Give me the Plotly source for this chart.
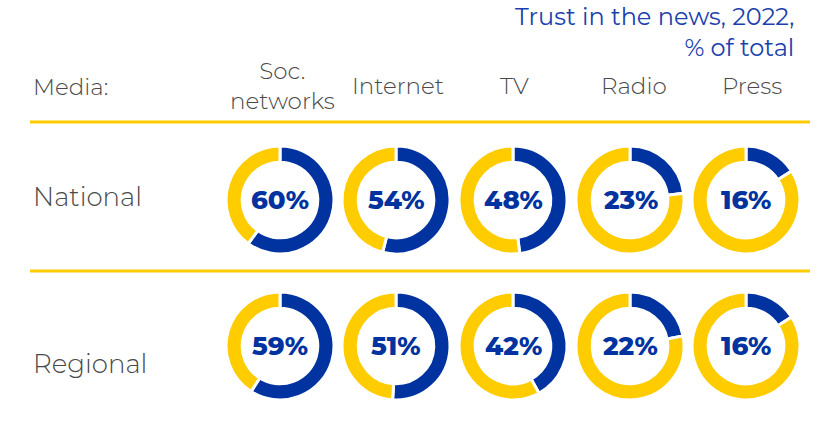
import plotly.graph_objects as go

media = ["Soc.<br>networks", "Internet", "TV", "Radio", "Press"]
rows = ["National", "Regional"]
national = [60, 54, 48, 23, 16]
regional = [59, 51, 42, 22, 16]
title_lines = "Trust in the news, 2022,<br>% of total"

W, H = 825, 421
BLUE = "#0033A0"
YELLOW = "#FFCC00"
TEXT = "#4a4a4a"
col_x = [280, 396, 513, 630, 746]
head_x = [282, 398, 514, 634, 752]
row_y = [200, 346]
R = 54

fig = go.Figure()
for ri, vals in enumerate([national, regional]):
    for ci, v in enumerate(vals):
        cx, cy = col_x[ci], row_y[ri]
        fig.add_trace(go.Pie(
            values=[v, 100 - v],
            marker=dict(colors=[BLUE, YELLOW], line=dict(color="white", width=3)),
            hole=0.7, sort=False, direction="clockwise", rotation=0,
            textinfo="none", hoverinfo="skip", showlegend=False,
            domain=dict(x=[(cx - R) / W, (cx + R) / W],
                        y=[1 - (cy + R) / H, 1 - (cy - R) / H]),
        ))
        fig.add_annotation(x=cx / W, y=1 - cy / H, xref="paper", yref="paper",
                           text=f"{v}%", showarrow=False, xanchor="center", yanchor="middle",
                           font=dict(family="Montserrat, Open Sans", size=26, color=BLUE, weight=800))

def ann(x, y, text, size, color=TEXT, xanchor="center", align="center", weight=300):
    fig.add_annotation(x=x / W, y=1 - y / H, xref="paper", yref="paper", text=text,
                       showarrow=False, xanchor=xanchor, yanchor="middle", align=align,
                       font=dict(family="Montserrat, Open Sans", size=size, color=color, weight=weight))

ann(796, 32, title_lines, 24, color="#1c3fae", xanchor="right", align="right", weight=400)
ann(31, 87, "Media:", 23, xanchor="left", align="left")
for ci, m in enumerate(media):
    ann(head_x[ci], 86, m, 23)
ann(31, 197, rows[0], 26, xanchor="left", align="left")
ann(31, 364, rows[1], 26, xanchor="left", align="left")

for y in [122, 271]:
    fig.add_shape(type="line", xref="paper", yref="paper",
                  x0=30 / W, x1=810 / W, y0=1 - y / H, y1=1 - y / H,
                  line=dict(color=YELLOW, width=3))

fig.update_layout(width=W, height=H, margin=dict(l=0, r=0, t=0, b=0),
                  paper_bgcolor="white", plot_bgcolor="white")
fig.write_html("out.html", config={"displayModeBar": False},
               post_script="document.body.style.margin='0';")
